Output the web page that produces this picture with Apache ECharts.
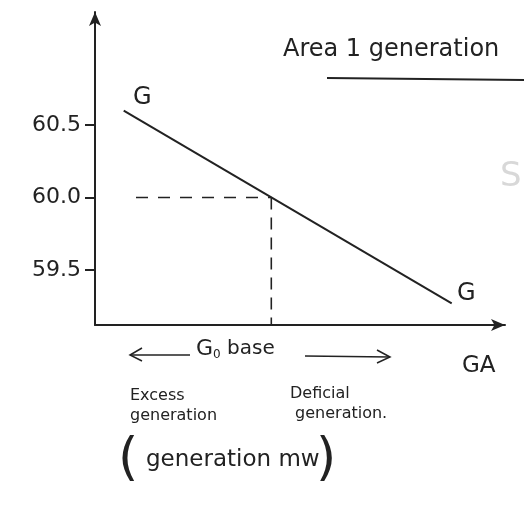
<!DOCTYPE html>
<html>
<head>
<meta charset="utf-8">
<script src="https://cdn.jsdelivr.net/npm/echarts@6/dist/echarts.min.js"></script>
<style>
  html, body { margin: 0; padding: 0; background: #fff; }
  #chart { width: 527px; height: 508px; }
</style>
</head>
<body>
<div id="chart"></div>
<script>
// Frequency ticks (Hz) shown on the vertical axis
const freqTicks = [59.5, 60.0, 60.5];
// Governor characteristic G–G: generation (relative units) vs frequency
const charGen = [7, 87];
const charFreq = [60.6, 59.27];
// Base operating point: base generation G0 at nominal frequency
const baseGen = 43;
const nominalFreq = 60.0;
const guideStartGen = 10;
// Axis ranges
const genRange = [0, 100];
const freqRange = [59.12, 61.28];

const ink = '#222';
const font = '"DejaVu Sans", "Liberation Sans", sans-serif';

const chart = echarts.init(document.getElementById('chart'), null, { renderer: 'canvas' });

const txt = (x, y, text, size, extra) => Object.assign({
  type: 'text', left: x, top: y,
  style: { text: text, fontSize: size, fontFamily: font, fill: ink }
}, extra || {});

chart.setOption({
  animation: false,
  backgroundColor: '#fff',
  grid: { left: 95, right: 22, top: 12, bottom: 183, containLabel: false },
  xAxis: {
    type: 'value', min: genRange[0], max: genRange[1],
    axisLine: { show: true, symbol: ['none', 'arrow'], symbolSize: [9, 14],
      lineStyle: { color: ink, width: 2 } },
    axisTick: { show: false }, axisLabel: { show: false }, splitLine: { show: false }
  },
  yAxis: {
    type: 'value', min: freqRange[0], max: freqRange[1],
    axisLine: { show: true, symbol: ['none', 'arrow'], symbolSize: [9, 14],
      lineStyle: { color: ink, width: 2 } },
    axisTick: { show: true, customValues: freqTicks, length: 10, lineStyle: { color: ink, width: 2 } },
    axisLabel: { show: true, customValues: freqTicks, margin: 14, fontSize: 22, fontFamily: font, color: ink,
      formatter: v => v.toFixed(1) },
    splitLine: { show: false }
  },
  series: [
    {
      name: 'G-G', type: 'line', symbol: 'none',
      data: charGen.map((g, i) => [g, charFreq[i]]),
      lineStyle: { color: ink, width: 2 }
    },
    {
      name: 'nominal', type: 'line', symbol: 'none',
      data: [[guideStartGen, nominalFreq], [baseGen, nominalFreq]],
      lineStyle: { color: ink, width: 1.6, type: [12, 10] }
    },
    {
      name: 'base', type: 'line', symbol: 'none',
      data: [[baseGen, nominalFreq], [baseGen, freqRange[0]]],
      lineStyle: { color: ink, width: 1.6, type: [12, 8] }
    }
  ],
  graphic: [
    txt(283, 38, 'Area 1 generation', 24),
    { type: 'line', shape: { x1: 327, y1: 78, x2: 524, y2: 80 }, style: { stroke: ink, lineWidth: 1.8 } },
    txt(500, 160, 'S', 34, { style: { text: 'S', fontSize: 34, fontFamily: font, fill: '#d8d8d8' } }),
    txt(133, 86, 'G', 24),
    txt(457, 282, 'G', 24),
    txt(462, 355, 'GA', 23),
    // G0 base with arrows either side
    { type: 'line', shape: { x1: 130, y1: 355, x2: 190, y2: 355 }, style: { stroke: ink, lineWidth: 1.5 } },
    { type: 'polyline', shape: { points: [[142, 348], [130, 355], [142, 361]] }, style: { stroke: ink, lineWidth: 1.5, fill: null } },
    {
      type: 'text', left: 196, top: 338,
      style: {
        text: '{g|G}{s|0}{b| base}', fontFamily: font, fill: ink,
        rich: { g: { fontSize: 22, fontFamily: font, fill: ink },
                s: { fontSize: 12, fontFamily: font, fill: ink, padding: [12, 0, 0, 0] },
                b: { fontSize: 20, fontFamily: font, fill: ink } }
      }
    },
    { type: 'line', shape: { x1: 305, y1: 356, x2: 390, y2: 357 }, style: { stroke: ink, lineWidth: 1.5 } },
    { type: 'polyline', shape: { points: [[377, 350], [390, 357], [377, 363]] }, style: { stroke: ink, lineWidth: 1.5, fill: null } },
    txt(130, 386, 'Excess\ngeneration', 16, { style: { text: 'Excess\ngeneration', fontSize: 16, lineHeight: 20, fontFamily: font, fill: ink } }),
    txt(290, 384, 'Deficial\n generation.', 16, { style: { text: 'Deficial\n generation.', fontSize: 16, lineHeight: 20, fontFamily: font, fill: ink } }),
    txt(118, 434, '(', 52, { style: { text: '(', fontSize: 52, fontFamily: font, fill: ink } }),
    txt(146, 449, 'generation mw', 23),
    txt(316, 434, ')', 52, { style: { text: ')', fontSize: 52, fontFamily: font, fill: ink } })
  ]
});
</script>
</body>
</html>
